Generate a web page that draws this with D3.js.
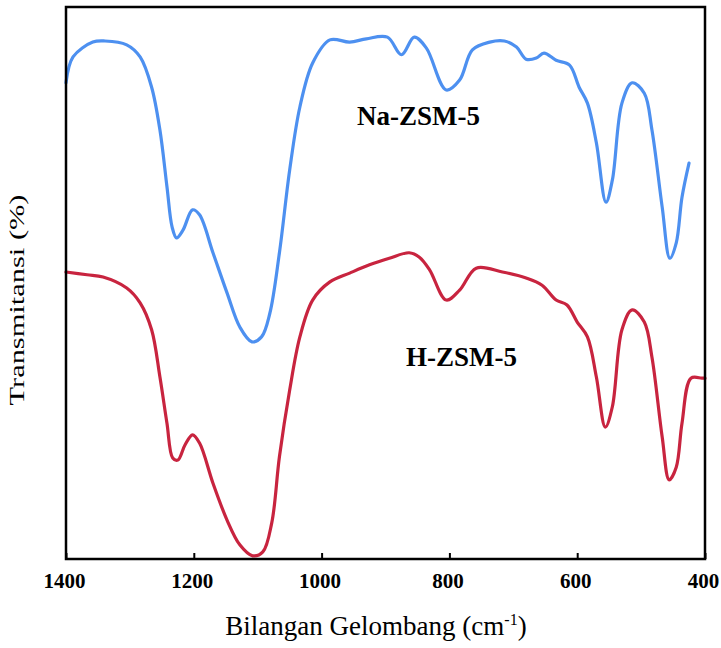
<!DOCTYPE html>
<html>
<head>
<meta charset="utf-8">
<script src="https://cdn.jsdelivr.net/npm/d3@7"></script>
<style>
  body { margin: 0; background: #fff; }
  svg { display: block; }
  text { font-family: 'Liberation Serif', 'Times New Roman', serif; fill: #000; }
</style>
</head>
<body>
<script>
// wavenumber (cm-1) and transmittance, arbitrary % scale
const naWave = [1400, 1389, 1358, 1339, 1305, 1284, 1266, 1253, 1242, 1234, 1227, 1217, 1202, 1191,
  1170, 1148, 1128, 1109, 1094, 1081, 1066, 1050, 1034, 1014, 987, 956, 930, 897, 875, 855, 836,
  805, 784, 764, 737, 714, 695, 680, 664, 652, 633, 612, 597, 584, 570, 555, 545, 530, 514, 495,
  483, 467, 455, 445, 436, 425]
const naTrans = [86.4, 91.1, 93.8, 94.0, 93.3, 91.1, 85.6, 77.8, 67.5, 60.2, 58.2, 59.6, 63.3, 62.4,
  55.5, 48.2, 42.0, 39.3, 40.2, 44.5, 55.5, 70.5, 82.0, 90.0, 94.2, 93.8, 94.4, 94.7, 91.5, 94.7, 92.7,
  85.1, 86.9, 92.4, 93.8, 94.0, 92.9, 90.7, 90.9, 91.8, 90.5, 89.6, 85.6, 82.7, 75.5, 64.7, 68.7, 82.7,
  86.4, 84.5, 77.8, 63.8, 54.5, 57.3, 65.6, 71.8]

const hWave = [1400, 1367, 1342, 1305, 1284, 1266, 1253, 1242, 1233, 1225, 1214, 1202, 1191, 1170,
  1148, 1128, 1108, 1092, 1078, 1066, 1050, 1034, 1014, 987, 956, 925, 894, 863, 847, 831, 805, 784,
  758, 717, 680, 655, 633, 616, 600, 584, 570, 556, 545, 530, 514, 495, 483, 467, 456, 445, 436, 422,
  405, 400]
const hTrans = [52.0, 51.5, 51.1, 49.1, 46.4, 41.5, 32.9, 24.5, 18.2, 17.8, 20.5, 22.4, 20.9, 13.6,
  6.9, 2.4, 0.4, 1.1, 6.4, 18.4, 30.5, 40.2, 46.9, 50.2, 51.8, 53.3, 54.5, 55.5, 54.7, 52.4, 46.9, 48.7,
  52.7, 52.0, 50.9, 49.6, 46.9, 46.0, 42.9, 40.2, 32.9, 23.8, 27.5, 41.5, 45.1, 42.9, 36.5, 22.0, 14.2,
  16.5, 24.5, 32.7, 32.7, 32.7]

const xTicks = [1400, 1200, 1000, 800, 600, 400]
const seriesNames = ['Na-ZSM-5', 'H-ZSM-5']

const width = 721
const height = 648
const box = { left: 66, right: 705, top: 7, bottom: 559 }

const svg = d3.select('body').append('svg')
  .attr('width', width)
  .attr('height', height)

const x = d3.scaleLinear().domain([1400, 400]).range([box.left, box.right])
const y = d3.scaleLinear().domain([0, 100]).range([box.bottom - 1, box.top + 1])

const line = d3.line()
  .x((p) => x(p[0]))
  .y((p) => y(p[1]))
  .curve(d3.curveCatmullRom.alpha(0.5))

const series = [
  { name: seriesNames[0], points: d3.zip(naWave, naTrans), color: '#4d90f0' },
  { name: seriesNames[1], points: d3.zip(hWave, hTrans), color: '#c8243f' },
]

series.forEach((s) => {
  svg.append('path')
    .datum(s.points)
    .attr('d', line)
    .attr('fill', 'none')
    .attr('stroke', s.color)
    .attr('stroke-width', 3.2)
    .attr('stroke-linejoin', 'round')
    .attr('stroke-linecap', 'round')
})

// frame
svg.append('rect')
  .attr('x', box.left)
  .attr('y', box.top)
  .attr('width', box.right - box.left)
  .attr('height', box.bottom - box.top)
  .attr('fill', 'none')
  .attr('stroke', '#000')
  .attr('stroke-width', 2.5)

// bottom axis, ticks pointing inward
const xAxis = d3.axisBottom(x)
  .tickValues(xTicks)
  .tickFormat(d3.format('d'))
  .tickSizeInner(-6)
  .tickSizeOuter(0)
  .tickPadding(14)

const axisG = svg.append('g')
  .attr('transform', `translate(0, ${box.bottom})`)
  .call(xAxis)

axisG.select('.domain').remove()
axisG.selectAll('.tick line').attr('stroke', '#000').attr('stroke-width', 2)
axisG.selectAll('.tick text')
  .attr('dx', -2)
  .style('font-family', "'Liberation Serif', 'Times New Roman', serif")
  .style('font-size', '21px')
  .style('font-weight', 'bold')
  .attr('fill', '#000')

// titles
const xTitle = svg.append('text')
  .attr('x', 376)
  .attr('y', 635)
  .attr('text-anchor', 'middle')
  .style('font-size', '27px')
xTitle.append('tspan').text('Bilangan Gelombang (cm')
xTitle.append('tspan').text('-1').attr('dy', -10).style('font-size', '16px')
xTitle.append('tspan').text(')').attr('dy', 10)

svg.append('text')
  .attr('transform', 'translate(24, 300) rotate(-90)')
  .attr('text-anchor', 'middle')
  .attr('textLength', 211)
  .attr('lengthAdjust', 'spacingAndGlyphs')
  .style('font-size', '21px')
  .text('Transmitansi (%)')

// series labels
svg.append('text')
  .attr('x', 357)
  .attr('y', 125)
  .style('font-size', '27px')
  .style('font-weight', 'bold')
  .text(seriesNames[0])

svg.append('text')
  .attr('x', 406)
  .attr('y', 366)
  .style('font-size', '27px')
  .style('font-weight', 'bold')
  .text(seriesNames[1])
</script>
</body>
</html>
